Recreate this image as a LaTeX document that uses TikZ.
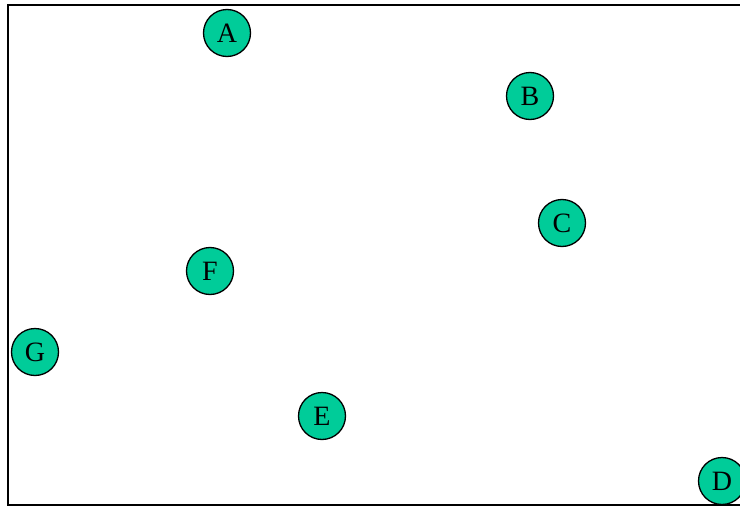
\documentclass[tikz,border=0pt]{standalone}
\usepackage{fontspec}
\setmainfont{Liberation Serif}
\definecolor{nodegreen}{RGB}{0,204,153}
\begin{document}
\begin{tikzpicture}[x=1pt,y=-1pt,
  vertex/.style={circle,draw=black,line width=1.3pt,fill=nodegreen,minimum size=47pt,inner sep=0pt,font=\fontsize{28}{28}\selectfont}]
\useasboundingbox (0,0) rectangle (740,506);
\draw[line width=2pt] (748,5) -- (8,5) -- (8,505) -- (748,505);
\node[vertex] (A) at (227,33) {A};
\node[vertex] (B) at (530,96) {B};
\node[vertex] (C) at (562,223) {C};
\node[vertex] (F) at (210,271) {F};
\node[vertex] (G) at (35,352) {G};
\node[vertex] (E) at (322,416) {E};
\node[vertex] (D) at (722,481) {D};
\end{tikzpicture}
\end{document}
